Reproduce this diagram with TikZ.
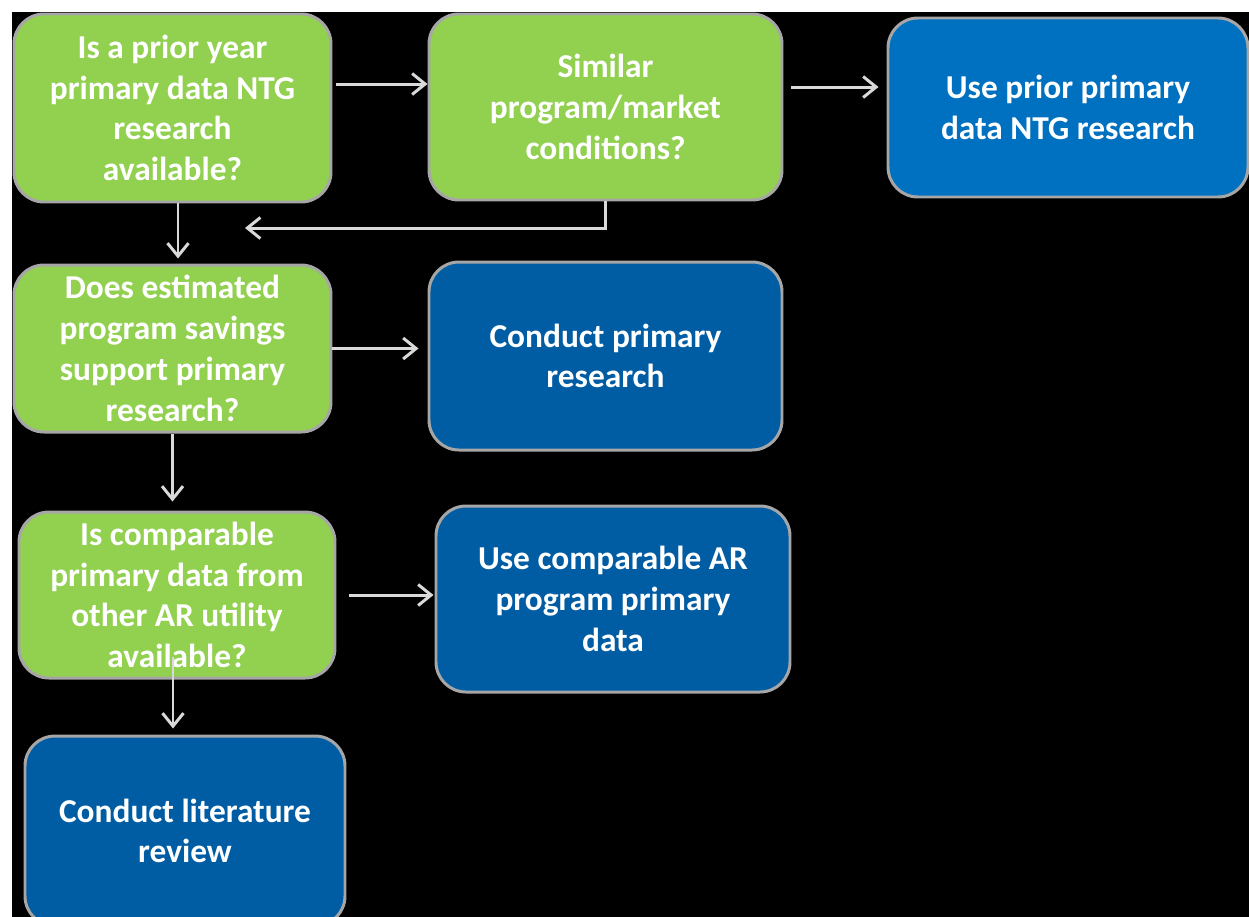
\documentclass[tikz,border=0pt]{standalone}
\usepackage{fontspec}
\setmainfont{Carlito}
\usetikzlibrary{arrows.meta}
\definecolor{qgreen}{HTML}{92D050}
\definecolor{actblue}{HTML}{005DA4}
\definecolor{useblue}{HTML}{0070C0}
\definecolor{rimgray}{HTML}{A6A6A6}
\definecolor{arrgray}{HTML}{D9D9D9}

\begin{document}
\begin{tikzpicture}[x=0.02cm,y=-0.02cm,
	box/.style={draw=rimgray,line width=1.7pt,rounded corners=0.6cm,align=center,
		text=white,font=\fontsize{19}{23.2}\selectfont\bfseries,inner sep=0pt},
	question/.style={box,fill=qgreen},
	action/.style={box,fill=actblue},
	arr/.style={draw=arrgray,line width=1.7pt,-{Straight Barb[length=0.26cm,width=0.42cm]}}]
	\clip (0,0) rectangle (1249,917);
	\fill[white] (0,0) rectangle (1249,917);
	\fill[black] (12,12) rectangle (1249,917);
	%% questions
	\node[question,minimum width=317*0.02cm,minimum height=188*0.02cm] (A) at (172.5,108)
		{Is a prior year\\primary data NTG\\research\\available?};
	\node[question,minimum width=353*0.02cm,minimum height=186*0.02cm] (B) at (605.5,107)
		{Similar\\program/market\\conditions?};
	\node[question,minimum width=317*0.02cm,minimum height=167*0.02cm] (D) at (172.5,348.5)
		{Does estimated\\program savings\\support primary\\research?};
	\node[question,minimum width=316*0.02cm,minimum height=166*0.02cm] (F) at (177,595)
		{Is comparable\\primary data from\\other AR utility\\available?};
	%% outcomes
	\node[action,fill=useblue,minimum width=360*0.02cm,minimum height=179*0.02cm] (C) at (1068,107.5)
		{Use prior primary\\data NTG research};
	\node[action,minimum width=353*0.02cm,minimum height=188*0.02cm] (E) at (605.5,356)
		{Conduct primary\\research};
	\node[action,minimum width=354*0.02cm,minimum height=186*0.02cm] (G) at (613,599)
		{Use comparable AR\\program primary\\data};
	\node[action,minimum width=320*0.02cm,minimum height=190*0.02cm] (H) at (185,831)
		{Conduct literature\\review};
	\coordinate (back) at (245,228);
	\coordinate (fh) at ([shift={(-4,-23)}]F.south);
	% 连线
	\draw[arr,shorten <=0.08cm] ([yshift=0.48cm]A.east) -- ([yshift=0.48cm]A.east -| B.west);
	\draw[arr,shorten <=0.16cm,shorten >=0.16cm] ([yshift=0.4cm]B.east) -- ([yshift=0.4cm]B.east -| C.west);
	\draw[arr] (B.south) |- (back);
	\draw[arr,shorten >=0.1cm] ([xshift=0.11cm]A.south) -- ([xshift=0.11cm]A.south |- D.north);
	\draw[arr,shorten >=0.18cm] (D.east) -- (D.east -| E.west);
	\draw[arr,shorten >=0.18cm] (D.south) -- (D.south |- F.north);
	\draw[arr,shorten <=0.26cm,shorten >=0.02cm] (F.east) -- (F.east -| G.west);
	\draw[arr,shorten >=0.12cm] (fh) -- (fh |- H.north);
\end{tikzpicture}
\end{document}
